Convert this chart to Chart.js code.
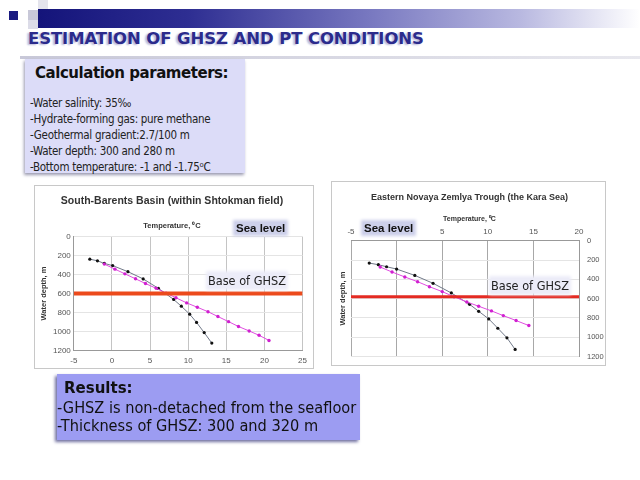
<!DOCTYPE html>
<html>
<head>
<meta charset="utf-8">
<script src="https://cdn.jsdelivr.net/npm/chart.js@4.4.1/dist/chart.umd.min.js"></script>
<style>
  body { margin: 0; width: 640px; height: 480px; background: #fff; position: relative; overflow: hidden; font-family: "DejaVu Sans", Verdana, sans-serif; }
  .abs { position: absolute; }
  #headBar { left: 38px; top: 9px; width: 602px; height: 19px; background: linear-gradient(to right, #14147a 0%, #2e2e92 25%, #7878c0 55%, #b8b8e0 80%, #ffffff 100%); }
  #title { left: 28px; top: 29px; font-weight: bold; font-size: 16.5px; color: #2b2b8c; text-shadow: -2px 1px 2px #b8b8d8; white-space: nowrap; letter-spacing: -0.1px; }
  #headLine { left: 20px; top: 56px; width: 620px; height: 3px; background: linear-gradient(to right, #c8c8d8, #e8e8ee); }
  .sq { position: absolute; }
  #calcBox { left: 25px; top: 59px; width: 220px; height: 114px; background: #dcdcf8; box-shadow: -1px 2px 3px #9a9ab0; }
  #calcBox .hdr { position: absolute; left: 10px; top: 5px; font-weight: bold; font-size: 15px; color: #111; white-space: nowrap; letter-spacing: -0.45px; }
  #calcBox .ln { position: absolute; left: 5px; font-size: 11.5px; color: #222; white-space: nowrap; font-family: "DejaVu Sans Condensed", "DejaVu Sans", sans-serif; letter-spacing: -0.3px; }
  #resBox { left: 57px; top: 374px; width: 303px; height: 66px; background: #9c9cf2; box-shadow: -2px 2px 3px #7070a0; }
  #resBox .hdr { position: absolute; left: 7px; top: 5px; font-weight: bold; font-size: 15px; color: #111; white-space: nowrap; }
  #resBox .ln { position: absolute; left: 0px; font-size: 16.2px; color: #111; white-space: nowrap; font-family: "DejaVu Sans Condensed", "DejaVu Sans", sans-serif; }
  .chartBox { position: absolute; background: #fff; border: 1px solid #c8c8c8; }
  .chartBox canvas { position: absolute; left: 0; top: 0; }
  .seaLvl { position: absolute; font-size: 11.5px; font-weight: bold; color: #111; background: #cdd0ea; padding: 0 1px; box-shadow: 0 0 3px 2px #cdd0ea; white-space: nowrap; font-family: "Liberation Sans", Arial, sans-serif; }
  .baseLbl { position: absolute; font-size: 12.6px; color: #222; background: #ececf8; box-shadow: 0 0 3px 2px #ececf8; white-space: nowrap; font-family: "DejaVu Sans Condensed", "DejaVu Sans", sans-serif; }
</style>
</head>
<body>
<div class="sq" style="left:9px;top:11px;width:9px;height:9px;background:#1a1a80"></div>
<div class="sq" style="left:28px;top:10px;width:10px;height:10px;background:#c8c8d8"></div>
<div class="sq" style="left:38px;top:0px;width:10px;height:10px;background:#e4e4ec"></div>
<div class="sq" style="left:28px;top:20px;width:10px;height:9px;background:#dcdce8"></div>
<div class="abs" id="headBar"></div>
<div class="abs" id="title">ESTIMATION OF GHSZ AND PT CONDITIONS</div>
<div class="abs" id="headLine"></div>

<div class="abs" id="calcBox">
  <div class="hdr">Calculation parameters:</div>
  <div class="ln" style="top:37px">-Water salinity: 35‰</div>
  <div class="ln" style="top:53px">-Hydrate-forming gas: pure methane</div>
  <div class="ln" style="top:69px">-Geothermal gradient:2.7/100 m</div>
  <div class="ln" style="top:85px">-Water depth: 300 and 280 m</div>
  <div class="ln" style="top:101px">-Bottom temperature: -1 and -1.75⁰C</div>
</div>

<div class="chartBox" style="left:34px;top:185px;width:278px;height:182px">
  <canvas id="leftChart" width="278" height="186"></canvas>
</div>
<div class="chartBox" style="left:331px;top:181px;width:273px;height:183px">
  <canvas id="rightChart" width="273" height="187"></canvas>
</div>

<div class="seaLvl" style="left:235px;top:222px">Sea level</div>
<div class="seaLvl" style="left:363px;top:222px">Sea level</div>
<div class="baseLbl" style="left:208px;top:273px">Base of GHSZ</div>
<div class="baseLbl" style="left:491px;top:278px">Base of GHSZ</div>

<div class="abs" id="resBox">
  <div class="hdr">Results:</div>
  <div class="ln" style="top:24px">-GHSZ is non-detached from the seafloor</div>
  <div class="ln" style="top:42px">-Thickness of GHSZ: 300 and 320 m</div>
</div>

<script>
// South-Barents Basin
const leftHydrateT = [-2.9, -1.9, -1.0, 0.1, 2.1, 4.1, 6.1, 8.1, 9.1, 10.2, 11.1, 12.1, 13.1];
const leftHydrateD = [238, 255, 283, 306, 370, 446, 546, 663, 734, 818, 905, 1012, 1123];
const leftGeoT = [-1.0, 0.4, 1.7, 3.1, 4.4, 5.8, 7.1, 8.4, 9.8, 11.2, 12.6, 13.9, 15.3, 16.6, 18.0, 19.3, 20.6];
const leftGeoD = [290, 343, 393, 445, 495, 545, 596, 645, 699, 745, 792, 843, 897, 948, 995, 1041, 1095];

// Eastern Novaya Zemlya Trough
const rightHydrateT = [-3.0, -2.0, -1.1, 0.0, 2.0, 4.0, 6.0, 8.0, 9.0, 10.1, 11.1, 12.1, 13.0];
const rightHydrateD = [231, 248, 269, 293, 359, 441, 541, 659, 731, 810, 907, 1006, 1127];
const rightGeoT = [-1.8, -0.5, 0.9, 2.3, 3.6, 5.0, 6.3, 7.7, 9.0, 10.4, 11.7, 13.1, 14.5];
const rightGeoD = [272, 324, 375, 424, 476, 527, 580, 634, 679, 727, 776, 827, 879];

const leftTempRange = [-5, 25];
const rightTempRange = [-5, 20];
const depthRange = [0, 1200];
const ghszBase = [600, 580];

const leftTitle = 'South-Barents Basin (within Shtokman field)';
const rightTitle = 'Eastern Novaya Zemlya Trough (the Kara Sea)';
const tempLabel = 'Temperature, ⁰C';
const depthLabel = 'Water depth, m';

function pts(xs, ys) {
  return xs.map((x, i) => ({ x: x, y: ys[i] }));
}

function makeDatasets(hT, hD, gT, gD, range, base, redW, redColor) {
  return [
    { data: [{ x: range[0], y: base }, { x: range[1], y: base }], borderColor: redColor, borderWidth: redW, pointRadius: 0, showLine: true },
    { data: pts(gT, gD), borderColor: '#e04ce0', borderWidth: 1, pointRadius: 1.7, pointBackgroundColor: '#d020d0', pointBorderWidth: 0, showLine: true },
    { data: pts(hT, hD), borderColor: '#707888', borderWidth: 1, pointRadius: 1.6, pointBackgroundColor: '#111', pointBorderWidth: 0, showLine: true }
  ];
}

const plain = v => String(v);
const tickFont = { family: 'Liberation Sans, Arial', size: 8 };
const titleFont = { family: 'Liberation Sans, Arial', size: 10.5, weight: 'bold' };
const smallBold = { family: 'Liberation Sans, Arial', size: 7.5, weight: 'bold' };

new Chart(document.getElementById('leftChart'), {
  type: 'scatter',
  data: { datasets: makeDatasets(leftHydrateT, leftHydrateD, leftGeoT, leftGeoD, leftTempRange, ghszBase[0], 4, '#ec4a1c') },
  options: {
    responsive: false, animation: false,
    layout: { padding: { left: 2, right: 6, top: 0, bottom: 0 } },
    plugins: {
      legend: { display: false }, tooltip: { enabled: false },
      title: { display: true, text: leftTitle, color: '#333', font: titleFont, padding: { top: 9, bottom: 14 } },
      subtitle: { display: true, text: tempLabel, color: '#333', font: smallBold, padding: { bottom: 6 } }
    },
    scales: {
      x: { type: 'linear', min: leftTempRange[0], max: leftTempRange[1], ticks: { stepSize: 5, color: '#555', font: tickFont, padding: 6, callback: plain },
           grid: { color: '#c4c4c4', drawTicks: false }, border: { color: '#999' } },
      y: { type: 'linear', reverse: true, min: depthRange[0], max: depthRange[1], ticks: { stepSize: 200, color: '#555', font: tickFont, padding: 3, callback: plain },
           grid: { color: '#e4e4e4', drawTicks: false }, border: { color: '#999' },
           title: { display: true, text: depthLabel, color: '#333', font: smallBold, padding: 2 } }
    }
  }
});

new Chart(document.getElementById('rightChart'), {
  type: 'scatter',
  data: { datasets: makeDatasets(rightHydrateT, rightHydrateD, rightGeoT, rightGeoD, rightTempRange, ghszBase[1], 3, '#e42a22') },
  options: {
    responsive: false, animation: false,
    layout: { padding: { left: 2, right: 0, top: 0, bottom: 0 } },
    plugins: {
      legend: { display: false }, tooltip: { enabled: false },
      title: { display: true, text: rightTitle, color: '#333', font: { family: 'Liberation Sans, Arial', size: 9, weight: 'bold' }, padding: { top: 10, bottom: 12 } },
      subtitle: { display: true, text: tempLabel, color: '#333', font: { family: 'Liberation Sans, Arial', size: 7, weight: 'bold' }, padding: { bottom: 0 } }
    },
    scales: {
      x: { type: 'linear', position: 'top', min: rightTempRange[0], max: rightTempRange[1], ticks: { stepSize: 5, color: '#555', font: tickFont, padding: 4, callback: plain },
           grid: { color: '#a8a8a8', drawTicks: false }, border: { color: '#999' } },
      y: { type: 'linear', position: 'right', reverse: true, min: depthRange[0], max: depthRange[1], ticks: { stepSize: 200, color: '#555', font: { family: 'Liberation Sans, Arial', size: 7.5 }, padding: 8, callback: plain },
           grid: { color: '#e4e4e4', drawTicks: false }, border: { color: '#999' },
           afterFit: axis => { axis.width = 26; } },
      yTitle: { type: 'linear', position: 'left', min: depthRange[0], max: depthRange[1], ticks: { display: false },
           grid: { display: false, drawTicks: false }, border: { display: false },
           title: { display: true, text: depthLabel, color: '#333', font: smallBold, padding: 4 } }
    }
  }
});
</script>
</body>
</html>
